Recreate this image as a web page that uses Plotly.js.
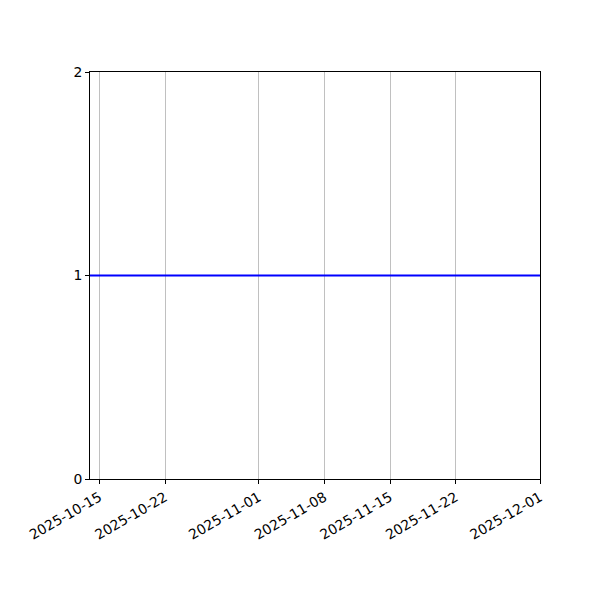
<!DOCTYPE html>
<html>
<head>
<meta charset="utf-8">
<script src="https://cdn.plot.ly/plotly-3.0.1.min.js"></script>
<style>html,body{margin:0;padding:0;background:#fff;}#chart{width:600px;height:600px;}</style>
</head>
<body>
<div id="chart"></div>
<script>
const lineDates = ['2025-10-14', '2025-12-01'];
const lineValues = [1, 1];
const xTickDates = ['2025-10-15', '2025-10-22', '2025-11-01', '2025-11-08', '2025-11-15', '2025-11-22', '2025-12-01'];
const yTicks = [0, 1, 2];

const trace = {
  x: lineDates,
  y: lineValues,
  type: 'scatter',
  mode: 'lines',
  line: {color: '#0000ff', width: 2},
  hoverinfo: 'skip'
};

const layout = {
  width: 600,
  height: 600,
  margin: {l: 90, r: 60, t: 72, b: 121},
  paper_bgcolor: '#ffffff',
  plot_bgcolor: '#ffffff',
  showlegend: false,
  font: {family: 'DejaVu Sans', size: 13.9, color: '#000000'},
  xaxis: {
    type: 'date',
    range: ['2025-10-14', '2025-12-01'],
    tickmode: 'array',
    tickvals: xTickDates,
    ticktext: xTickDates,
    tickangle: -30,
    showgrid: true,
    gridcolor: '#b0b0b0',
    gridwidth: 0.8,
    showline: true,
    linecolor: '#000000',
    linewidth: 1,
    mirror: true,
    ticks: 'outside',
    ticklen: 4,
    tickcolor: '#000000',
    zeroline: false,
    tickfont: {family: 'DejaVu Sans', size: 13.9, color: '#000000'}
  },
  yaxis: {
    range: [0, 2],
    tickmode: 'array',
    tickvals: yTicks,
    ticktext: yTicks.map(String),
    showgrid: false,
    showline: true,
    linecolor: '#000000',
    linewidth: 1,
    mirror: true,
    ticks: 'outside',
    ticklen: 4,
    tickcolor: '#000000',
    zeroline: false,
    tickfont: {family: 'DejaVu Sans', size: 13.9, color: '#000000'}
  }
};

Plotly.newPlot('chart', [trace], layout, {staticPlot: true, displayModeBar: false});
</script>
</body>
</html>
